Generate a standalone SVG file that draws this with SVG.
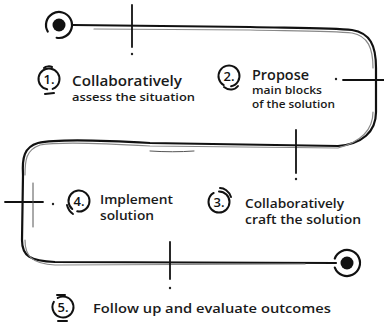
<svg xmlns="http://www.w3.org/2000/svg" width="384" height="322" viewBox="0 0 384 322">
<style>
.road{fill:none;stroke:#111;stroke-width:2.2;stroke-linecap:round;stroke-linejoin:round}
.shadow{fill:none;stroke:#888;stroke-width:1.2;stroke-linecap:round}
.tick{fill:none;stroke:#111;stroke-width:1.8;stroke-linecap:round}
.thin{fill:none;stroke:#555;stroke-width:1;stroke-linecap:round}
.badge{fill:none;stroke:#111;stroke-width:2;stroke-linecap:round}
.num{font-family:"Open Sans","Liberation Sans",sans-serif;font-weight:600;font-size:13px;fill:#111;text-anchor:middle}
.t{font-family:"Open Sans","Liberation Sans",sans-serif;font-weight:600;fill:#1a1a1a}
.dot{fill:#222}
</style>
<rect width="384" height="322" fill="#fff"/>
<g id="connectors">
<path class="road" d="M73,25 L250,27 C300,28 335,28 352,30 C370,33 376,45 376,68 L376,112 C376,132 362,144 338,146 L150,143 C100,140 55,139 38,143 C24,147 22,158 23,175 L22,240 C22,256 30,261 55,262 L336,263"/>
<path class="shadow" d="M94,29 L250,30 C300,31 335,31 352,33 C368,36 373,48 373,68 M373,112 C373,130 360,142 338,148 L150,146 C100,143 55,142 40,145 C26,150 25,160 25,175 M25,240 C25,256 32,264 55,265 L305,264"/>
<path class="thin" d="M150,151 C165,152 180,152 194,151"/>
</g>
<g id="start">
<circle class="road" cx="59" cy="25" r="13" stroke-dasharray="70 12" transform="rotate(150 59 25)"/>
<circle cx="59" cy="25" r="6.5" fill="#111"/>
</g>
<g id="end">
<circle class="road" cx="347" cy="263" r="13" stroke-dasharray="72 10" transform="rotate(200 347 263)"/>
<circle cx="347" cy="263" r="6.5" fill="#111"/>
</g>
<g id="ticks">
<line class="tick" x1="132" y1="5" x2="132" y2="47"/>
<circle class="dot" cx="132" cy="54" r="1.2"/>
<line class="tick" x1="343" y1="80" x2="384" y2="80"/>
<circle class="dot" cx="336" cy="79" r="1.2"/>
<line class="tick" x1="296" y1="130" x2="296" y2="173"/>
<circle class="dot" cx="296" cy="179" r="1.2"/>
<line class="tick" x1="5" y1="202" x2="43" y2="202"/>
<line class="thin" x1="33" y1="183" x2="33" y2="227" stroke="#333" stroke-width="1.4"/>
<circle class="dot" cx="53" cy="204" r="1.2"/>
<line class="tick" x1="170" y1="242" x2="170" y2="279"/>
<circle class="dot" cx="170" cy="288" r="1.2"/>
</g>
<g id="step1">
<circle class="badge" cx="49" cy="79" r="10.5" stroke-dasharray="60 6" transform="rotate(100 49 79)"/>
<path class="badge" d="M44,68 C46,66 50,66 52,67"/>
<path class="badge" d="M45,94 L54,93"/>
<text class="num" x="49" y="84">1.</text>
<text class="t" x="72" y="86" font-size="14" textLength="110" lengthAdjust="spacingAndGlyphs">Collaboratively</text>
<text class="t" x="72" y="101" font-size="11" textLength="123" lengthAdjust="spacingAndGlyphs">assess the situation</text>
</g>
<g id="step2">
<circle class="badge" cx="229" cy="76" r="10.5" stroke-dasharray="58 8" transform="rotate(120 229 76)"/>
<path class="badge" d="M224,87 C229,91 235,90 238,86"/>
<text class="num" x="229" y="81">2.</text>
<text class="t" x="252" y="80" font-size="13.5" textLength="57" lengthAdjust="spacingAndGlyphs">Propose</text>
<text class="t" x="252" y="94" font-size="10.5" textLength="70" lengthAdjust="spacingAndGlyphs">main blocks</text>
<text class="t" x="252" y="108" font-size="10.5" textLength="83" lengthAdjust="spacingAndGlyphs">of the solution</text>
</g>
<g id="step3">
<circle class="badge" cx="219" cy="202" r="10.5" stroke-dasharray="60 6" transform="rotate(-90 219 202)"/>
<path class="badge" d="M220,188 C224,188 229,191 231,197"/>
<text class="num" x="219" y="207">3.</text>
<text class="t" x="245" y="208" font-size="12" textLength="99" lengthAdjust="spacingAndGlyphs">Collaboratively</text>
<text class="t" x="245" y="224" font-size="12" textLength="116" lengthAdjust="spacingAndGlyphs">craft the solution</text>
</g>
<g id="step4">
<circle class="badge" cx="79" cy="201" r="10.5" stroke-dasharray="60 6" transform="rotate(130 79 201)"/>
<path class="badge" d="M67,205 C68,209 70,212 73,214"/>
<text class="num" x="79" y="206">4.</text>
<text class="t" x="100" y="204" font-size="12" textLength="73" lengthAdjust="spacingAndGlyphs">Implement</text>
<text class="t" x="100" y="220" font-size="12" textLength="54" lengthAdjust="spacingAndGlyphs">solution</text>
</g>
<g id="step5">
<circle class="badge" cx="63" cy="307" r="10.5" stroke-dasharray="60 6" transform="rotate(-120 63 307)"/>
<path class="badge" d="M57,295 L65,295"/>
<path class="badge" d="M58,321 L67,321"/>
<text class="num" x="63" y="312">5.</text>
<text class="t" x="93" y="313" font-size="13" textLength="238" lengthAdjust="spacingAndGlyphs">Follow up and evaluate outcomes</text>
</g>
</svg>
